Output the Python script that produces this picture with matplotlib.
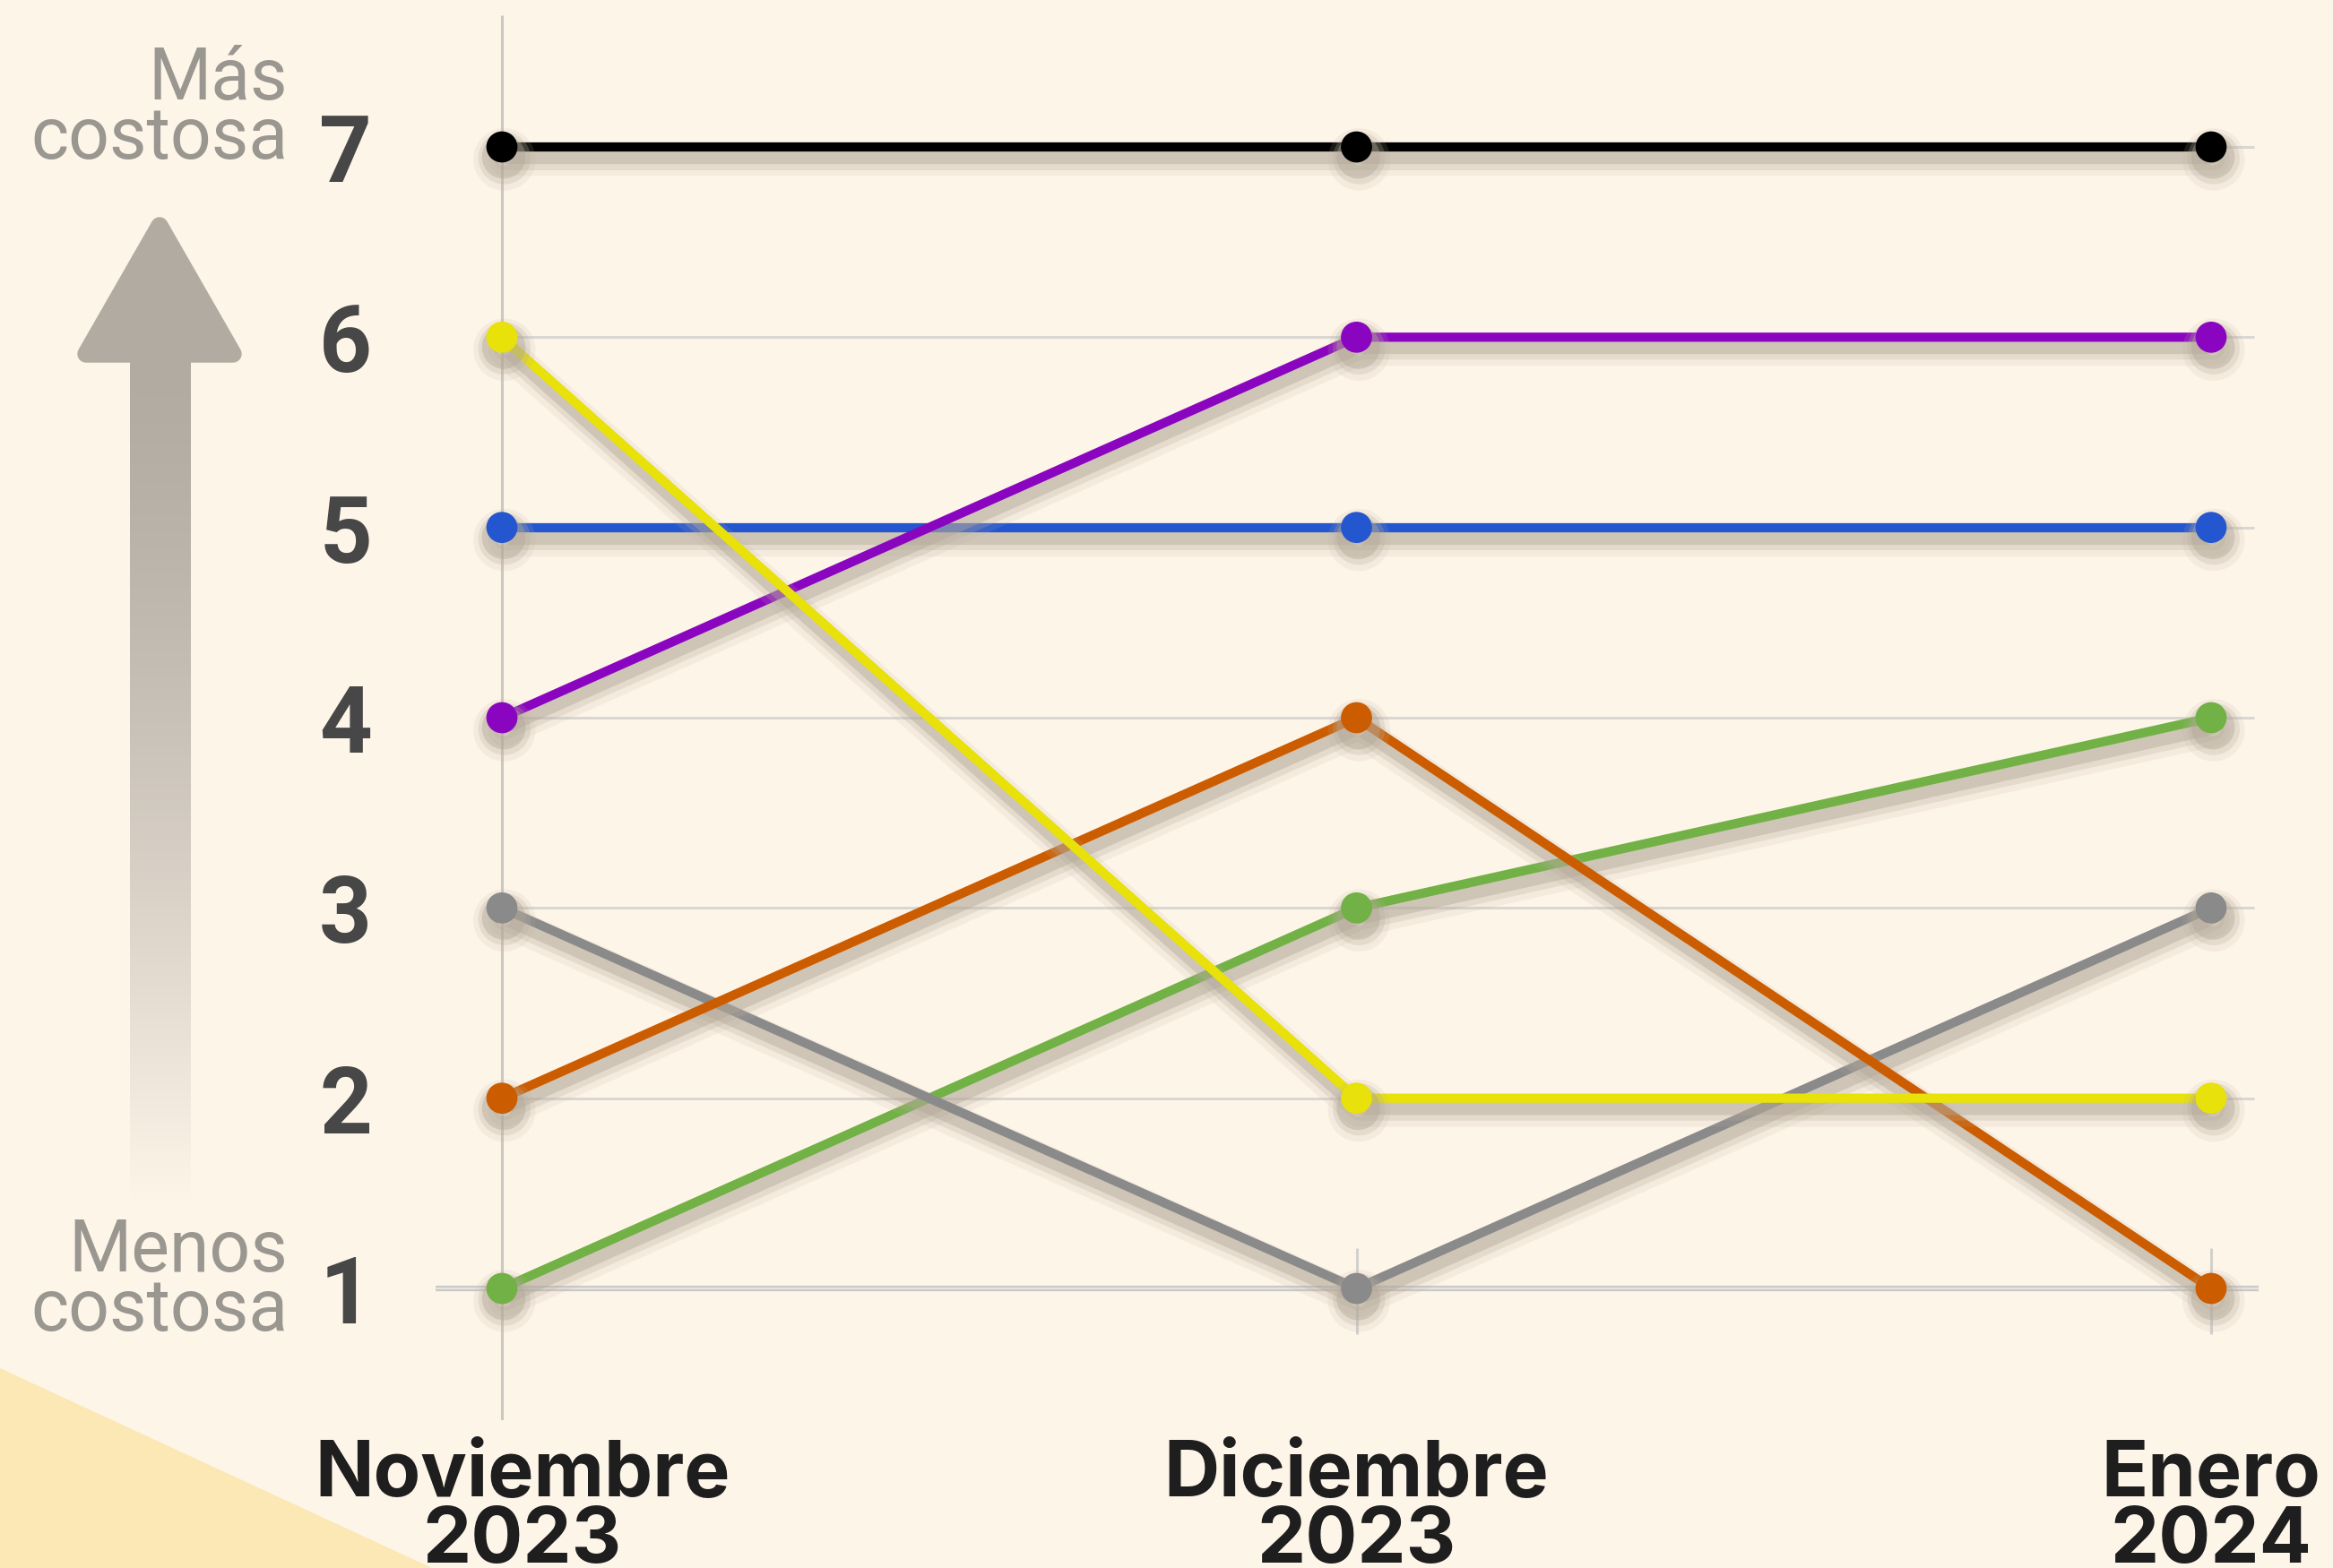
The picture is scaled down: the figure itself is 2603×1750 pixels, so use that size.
#%% Ranking chart - costo por mes
import numpy as np
import matplotlib.pyplot as plt
import matplotlib.patheffects as pe
from matplotlib.patches import Polygon
from matplotlib.transforms import ScaledTranslation
from matplotlib.colors import to_rgb

#%% Data
months = ['Noviembre\n2023', 'Diciembre\n2023', 'Enero\n2024']
ranks = [1, 2, 3, 4, 5, 6, 7]

black = [7, 7, 7]
blue = [5, 5, 5]
purple = [4, 6, 6]
green = [1, 3, 4]
gray = [3, 1, 3]
orange = [2, 4, 1]
yellow = [6, 2, 2]

series = [(black, '#000000'),
          (blue, '#2456cf'),
          (purple, '#8a05bf'),
          (green, '#71b145'),
          (gray, '#8a8a8a'),
          (orange, '#cc5c00'),
          (yellow, '#e8e10a')]

#%% Style
bg = '#fef5e9'
W, H = 2603, 1750
xpos = np.arange(len(months))

fig = plt.figure(figsize=(W/100, H/100), dpi=100, facecolor=bg)

# background decorations in pixel coords
deco = fig.add_axes([0, 0, 1, 1], zorder=0)
deco.axis('off')
deco.set_facecolor(bg)

# yellow corner
deco.add_patch(Polygon([(0, 1527), (482, 1750), (0, 1750)], closed=True,
                       facecolor='#fbe8b4', edgecolor='none'))

# arrow head
arr_col = '#b2aba2'
deco.add_patch(Polygon([(178, 252), (96, 395), (260, 395)], closed=True,
                       facecolor=arr_col, edgecolor=arr_col, lw=14,
                       joinstyle='round'))
# arrow shaft with fade
y0, y1 = 400, 1340
t = np.linspace(0, 1, 400)
fade = np.clip(t**1.4, 0, 1)
c1 = np.array(to_rgb(arr_col))
c2 = np.array(to_rgb(bg))
grad = (c1[None, :]*(1-fade[:, None]) + c2[None, :]*fade[:, None])
deco.imshow(grad[:, None, :], extent=(145, 213, y1, y0), aspect='auto',
            interpolation='bilinear')
deco.set_xlim(0, W)
deco.set_ylim(H, 0)

# side labels
fig.text(321/W, 1-122/H, 'Más\ncostosa', ha='right', va='center',
         fontsize=58, color='#9a9690', family='Roboto', linespacing=0.8)
fig.text(321/W, 1-1430/H, 'Menos\ncostosa', ha='right', va='center',
         fontsize=58, color='#9a9690', family='Roboto', linespacing=0.8)

#%% Main axes
# Nov at px 560, Jan at px 2467; rank 7 at px 164, rank 1 at px 1438
xs = (2467-560)/2.
ys = (1438-164)/6.
left, right = 486, 2520
top, bottom = 17, 1585
ax = fig.add_axes([left/W, 1-bottom/H, (right-left)/W, (bottom-top)/H],
                  zorder=1)
ax.set_facecolor('none')
ax.set_xlim(-(560-left)/xs, 2+(right-2467)/xs)
ax.set_ylim(1-(bottom-1438)/ys, 7+(164-top)/ys)
for s in ax.spines.values():
    s.set_visible(False)

# grid
ax.hlines(ranks[1:], 0, 2.05, color='#dad7d2', lw=2.2, zorder=1)
ax.hlines(1, ax.get_xlim()[0], ax.get_xlim()[1], color='#cbc9c6', lw=4.5,
          zorder=1, capstyle='round')
ax.hlines(1, ax.get_xlim()[0], ax.get_xlim()[1], color='#e6e4e1', lw=1.5,
          zorder=1)
ax.vlines(0, ax.get_ylim()[0], ax.get_ylim()[1], color='#cbc7c1', lw=2.2,
          zorder=1)
ax.vlines(xpos[1:], 0.76, 1.21, color='#d3d1cd', lw=2.2, zorder=1)

# lines with soft drop shadow
shadow = [pe.SimpleLineShadow(offset=(2, -10), shadow_color='#bdb2a2',
                              alpha=0.14, linewidth=26),
          pe.SimpleLineShadow(offset=(2, -9), shadow_color='#b8ad9d',
                              alpha=0.25, linewidth=18),
          pe.SimpleLineShadow(offset=(1.5, -8), shadow_color='#b0a595',
                              alpha=0.4, linewidth=11),
          pe.Normal()]
for k, (vals, col) in enumerate(series):
    ax.plot(xpos, vals, color=col, lw=7.4, marker='o', ms=24,
            solid_capstyle='round', zorder=3+k, clip_on=False,
            path_effects=shadow)

#%% Ticks
ax.set_yticks(ranks)
ax.set_yticklabels([str(r) for r in ranks], fontsize=74, fontweight='bold',
                   color='#474747', family='Roboto')
ax.tick_params(axis='y', length=0, pad=51)
ax.set_xticks(xpos)
ax.set_xticklabels(months, fontsize=62, fontweight='bold', color='#1e1e1e',
                   family='Inter', linespacing=0.88)
ax.tick_params(axis='x', length=0, pad=16)
lab = ax.get_xticklabels()[0]
lab.set_transform(lab.get_transform() + ScaledTranslation(0.23, 0, fig.dpi_scale_trans))

fig.savefig('out.png', dpi=100, facecolor=bg)
